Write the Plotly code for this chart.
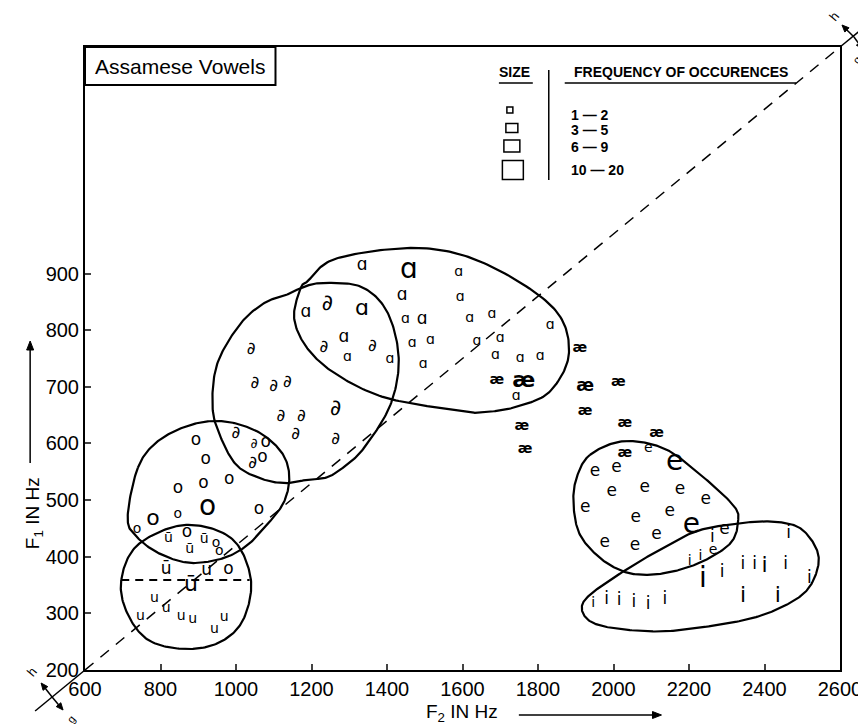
import numpy as np
import plotly.graph_objects as go

# ---------------- data (F2 Hz, F1 Hz, frequency class 1..4) ----------------
a_f2 = [1334, 1458, 1590, 1185, 1334, 1440, 1594, 1449, 1493, 1619, 1678, 1832, 1286, 1295, 1408, 1467, 1515, 1638, 1700, 1496, 1687, 1753, 1806, 1742]
a_f1 = [914, 904, 901, 830, 837, 860, 858, 818, 819, 821, 827, 808, 786, 751, 749, 777, 781, 780, 786, 740, 756, 750, 754, 683]
a_cl = [2, 4, 1, 2, 3, 2, 1, 1, 2, 1, 1, 1, 2, 1, 1, 1, 1, 1, 1, 1, 1, 1, 1, 1]

schwa_f2 = [1242, 1233, 1361, 1136, 1264, 1173, 1158, 1264, 1000, 1119, 1044, 1048, 1040, 1050, 1100]
schwa_f1 = [845, 769, 770, 707, 660, 648, 615, 607, 618, 648, 565, 598, 765, 705, 700]
schwa_cl = [3, 2, 2, 2, 3, 2, 2, 2, 2, 2, 2, 1, 2, 2, 2]

o_f2 = [894, 920, 846, 914, 982, 925, 846, 780, 738, 1061, 870, 947, 956, 980, 1079, 1070]
o_f1 = [605, 571, 520, 528, 536, 486, 475, 465, 448, 483, 442, 424, 409, 377, 602, 575]
o_cl = [2, 2, 2, 2, 2, 4, 1, 3, 1, 2, 2, 1, 1, 2, 2, 2]

ubar_f2 = [821, 916, 877, 815, 922, 881]
ubar_f1 = [433, 430, 412, 377, 376, 350]
ubar_cl = [1, 1, 1, 2, 2, 3]

u_f2 = [784, 815, 747, 855, 885, 969, 943]
u_f1 = [327, 309, 295, 295, 289, 292, 271]
u_cl = [1, 1, 1, 1, 1, 1, 1]

ae_f2 = [1911, 1691, 1762, 1925, 2013, 1925, 1757, 2030, 2114, 1766, 2030]
ae_f1 = [768, 711, 710, 701, 707, 657, 630, 636, 618, 589, 583]
ae_cl = [1, 1, 3, 2, 1, 1, 1, 1, 1, 1, 1]

e_f2 = [2092, 1951, 2008, 2162, 1995, 2083, 2176, 2244, 1925, 2059, 2149, 1977, 2057, 2114, 2206, 2294, 2264]
e_f1 = [591, 550, 557, 565, 515, 521, 518, 501, 487, 468, 480, 424, 420, 438, 454, 448, 411]
e_cl = [1, 2, 2, 4, 2, 2, 2, 2, 2, 2, 2, 2, 2, 2, 4, 2, 1]

i_f2 = [2262, 2202, 2230, 2237, 2288, 2343, 2374, 2400, 2456, 2464, 2519, 1946, 1982, 2015, 2054, 2092, 2136, 2343, 2435]
i_f1 = [434, 392, 401, 359, 371, 386, 386, 383, 386, 440, 362, 318, 324, 322, 318, 315, 324, 330, 330]
i_cl = [2, 1, 1, 4, 2, 2, 2, 3, 2, 2, 2, 1, 2, 2, 2, 2, 2, 3, 3]

# cluster outlines (F2, F1)
a_out_f2 = [1171, 1189, 1268, 1489, 1665, 1841, 1882, 1832, 1744, 1656, 1603, 1400, 1268, 1189, 1154]
a_out_f1 = [874, 886, 927, 945, 916, 839, 760, 692, 665, 655, 657, 680, 721, 768, 821]
schwa_out_f2 = [1136, 1171, 1224, 1330, 1400, 1431, 1409, 1339, 1285, 1240, 1189, 1136, 1075, 1004, 960, 938, 950, 1010, 1075]
schwa_out_f1 = [863, 874, 883, 877, 833, 751, 668, 592, 558, 540, 536, 530, 536, 560, 610, 663, 740, 810, 848]
o_out_f2 = [740, 793, 881, 969, 1057, 1119, 1141, 1128, 1083, 1031, 969, 881, 802, 740, 713]
o_out_f1 = [557, 604, 633, 639, 621, 586, 545, 498, 457, 421, 398, 389, 404, 433, 468]
u_out_f2 = [696, 740, 863, 987, 1039, 1020, 960, 870, 770, 712]
u_out_f1 = [359, 421, 456, 433, 362, 290, 250, 237, 252, 300]
e_out_f2 = [1938, 2026, 2131, 2219, 2316, 2330, 2310, 2237, 2158, 2087, 2026, 1964, 1911, 1894, 1902]
e_out_f1 = [580, 604, 592, 551, 492, 462, 424, 392, 374, 368, 374, 398, 439, 492, 539]
i_out_f2 = [2026, 2114, 2219, 2334, 2422, 2493, 2537, 2541, 2510, 2440, 2352, 2220, 2114, 1999, 1938, 1916, 1938]
i_out_f1 = [374, 409, 445, 459, 462, 451, 415, 380, 339, 309, 289, 274, 268, 274, 286, 309, 333]

ubar_divider_f2 = [696, 1036]
ubar_divider_f1 = [359, 359]

x_ticks = [600, 800, 1000, 1200, 1400, 1600, 1800, 2000, 2200, 2400, 2600]
y_ticks = [200, 300, 400, 500, 600, 700, 800, 900]
X_RANGE = [600, 2600]
Y_RANGE = [200, 1300]

legend_ranges = ["1 — 2", "3 — 5", "6 — 9", "10 — 20"]

# ---------------- layout geometry (pixels) ----------------
W, H = 866, 724
PL, PR, PT, PB = 77, 834, 39, 662
FONT = "Liberation Sans, Arial, sans-serif"
SYM_FONT = "DejaVu Sans, sans-serif"
CLASS_SIZE = {1: 14, 2: 17, 3: 22, 4: 28}


def px(x):
    return (x - PL) / (PR - PL)


def py(y):
    return (PB - y) / (PB - PT)


def closed_curve(xs, ys, n=24):
    P = np.column_stack([xs, ys]).astype(float)
    N = len(P)
    t = np.linspace(0, 1, n, endpoint=False)[:, None]
    segs = []
    for k in range(N):
        p0, p1, p2, p3 = P[(k - 1) % N], P[k], P[(k + 1) % N], P[(k + 2) % N]
        seg = 0.5 * (2 * p1 + (-p0 + p2) * t + (2 * p0 - 5 * p1 + 4 * p2 - p3) * t ** 2
                     + (-p0 + 3 * p1 - 3 * p2 + p3) * t ** 3)
        segs.append(seg)
    segs.append(P[:1])
    C = np.vstack(segs)
    return C[:, 0], C[:, 1]


fig = go.Figure()

for ox, oy in [(a_out_f2, a_out_f1), (schwa_out_f2, schwa_out_f1), (o_out_f2, o_out_f1),
               (u_out_f2, u_out_f1), (e_out_f2, e_out_f1), (i_out_f2, i_out_f1)]:
    cx, cy = closed_curve(ox, oy)
    fig.add_trace(go.Scatter(x=cx, y=cy, mode="lines", line=dict(color="black", width=2.2),
                             hoverinfo="skip", showlegend=False))

fig.add_trace(go.Scatter(x=ubar_divider_f2, y=ubar_divider_f1, mode="lines",
                         line=dict(color="black", width=2, dash="8px,6px"),
                         hoverinfo="skip", showlegend=False))

fig.add_trace(go.Scatter(x=X_RANGE, y=Y_RANGE, mode="lines",
                         line=dict(color="black", width=1.5, dash="11px,9px"),
                         hoverinfo="skip", showlegend=False))

groups = [
    ("ɑ", a_f2, a_f1, a_cl, False),
    ("∂", schwa_f2, schwa_f1, schwa_cl, False),
    ("o", o_f2, o_f1, o_cl, False),
    ("ū", ubar_f2, ubar_f1, ubar_cl, False),
    ("u", u_f2, u_f1, u_cl, False),
    ("æ", ae_f2, ae_f1, ae_cl, True),
    ("e", e_f2, e_f1, e_cl, False),
    ("i", i_f2, i_f1, i_cl, False),
]
for sym, xs, ys, cls, bold in groups:
    label = f"<b>{sym}</b>" if bold else sym
    for c in sorted(set(cls)):
        sx = [x for x, k in zip(xs, cls) if k == c]
        sy = [y for y, k in zip(ys, cls) if k == c]
        fig.add_trace(go.Scatter(
            x=sx, y=sy, mode="text", text=[label] * len(sx),
            textposition="middle center",
            textfont=dict(family=SYM_FONT, color="black", size=CLASS_SIZE[c]),
            hoverinfo="skip", showlegend=False))

shapes = []
annotations = []


def pline(x0, y0, x1, y1, w=1.5, dash=None):
    d = dict(type="line", xref="paper", yref="paper", x0=px(x0), y0=py(y0), x1=px(x1), y1=py(y1),
             line=dict(color="black", width=w))
    if dash:
        d["line"]["dash"] = dash
    shapes.append(d)


def prect(x0, y0, x1, y1, w=1.5):
    shapes.append(dict(type="rect", xref="paper", yref="paper", x0=px(x0), y0=py(y0), x1=px(x1), y1=py(y1),
                       line=dict(color="black", width=w)))


def ptext(x, y, text, size, xanchor="center", angle=0, family=FONT):
    annotations.append(dict(xref="paper", yref="paper", x=px(x), y=py(y), text=text, showarrow=False,
                            xanchor=xanchor, yanchor="middle", textangle=angle,
                            font=dict(family=family, size=size, color="black")))


def parrow(x_tip, y_tip, x_tail, y_tail, head=9.0, half=3.5, w=1.5):
    d = np.array([x_tip - x_tail, y_tip - y_tail], dtype=float)
    d /= np.hypot(*d)
    n = np.array([-d[1], d[0]])
    base = np.array([x_tip, y_tip]) - head * d
    pline(x_tail, y_tail, base[0], base[1], w=w)
    p1 = base + half * n
    p2 = base - half * n
    path = (f"M {px(x_tip)} {py(y_tip)} L {px(p1[0])} {py(p1[1])} "
            f"L {px(p2[0])} {py(p2[1])} Z")
    shapes.append(dict(type="path", xref="paper", yref="paper", path=path,
                       fillcolor="black", line=dict(color="black", width=1)))


# title box
prect(PL, PT, 268, 77, w=2)
ptext(172, 58, "Assamese Vowels", 21)

# legend
ptext(508, 64, "<b>SIZE</b>", 14)
pline(492, 75, 526, 75)
ptext(675, 64, "<b>FREQUENCY OF OCCURENCES</b>", 14)
pline(558, 75, 790, 75)
pline(542, 62, 542, 172, w=1.5)
for (cx, cy, w, h) in [(503, 102, 6, 6), (505, 120, 12, 9), (505, 138, 16, 12), (506, 162, 21, 19)]:
    prect(cx - w / 2, cy - h / 2, cx + w / 2, cy + h / 2, w=1.5)
for lbl, yy in zip(legend_ranges, [107, 122, 139, 162]):
    ptext(562, yy, f"<b>{lbl}</b>", 14, xanchor="left")

# axis titles with arrows
ptext(455, 705, "F<sub>2</sub> IN Hz", 19)
parrow(655, 707, 512, 707)
ptext(26, 505, "F<sub>1</sub> IN Hz", 19, angle=-90)
parrow(22, 333, 22, 455)

# h / g markers at both ends of the diagonal
pline(PL, PB, 27, 703, w=1.5)
pline(PR, PT, 862, 16, w=1.5)
parrow(33, 675, 44, 689, head=7, half=3)
parrow(55, 702, 44, 689, head=7, half=3)
ptext(23, 664, "h", 13, angle=-50)
ptext(63, 711, "g", 11, angle=-50)
parrow(836, 17, 848, 29, head=7, half=3)
parrow(857, 41, 848, 29, head=7, half=3)
ptext(828, 9, "h", 13, angle=-50)
ptext(851, 52, "g", 11, angle=-50)

fig.update_layout(
    width=W, height=H,
    margin=dict(l=PL, r=W - PR, t=PT, b=H - PB),
    paper_bgcolor="white", plot_bgcolor="white",
    shapes=shapes, annotations=annotations,
    xaxis=dict(range=X_RANGE, tickvals=x_ticks, ticks="inside", ticklen=6, tickwidth=1.5,
               showline=True, linewidth=2, linecolor="black", mirror=True, showgrid=False,
               zeroline=False, tickfont=dict(family=FONT, size=20, color="black")),
    yaxis=dict(range=Y_RANGE, tickvals=y_ticks, ticks="inside", ticklen=6, tickwidth=1.5,
               showline=True, linewidth=2, linecolor="black", mirror=True, showgrid=False,
               zeroline=False, tickfont=dict(family=FONT, size=20, color="black")),
)

fig.write_html("out.html")
